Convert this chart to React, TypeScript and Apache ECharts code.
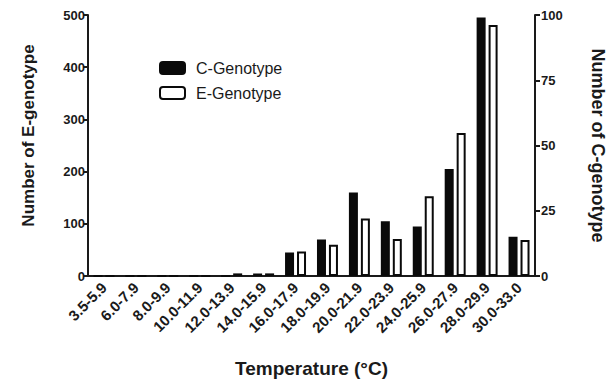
import React, { useEffect, useRef } from "react";
import * as echarts from "echarts";

const categories = [
  "3.5-5.9", "6.0-7.9", "8.0-9.9", "10.0-11.9", "12.0-13.9", "14.0-15.9", "16.0-17.9",
  "18.0-19.9", "20.0-21.9", "22.0-23.9", "24.0-25.9", "26.0-27.9", "28.0-29.9", "30.0-33.0",
];
const cGenotype = [0, 0, 0, 0, 0, 1, 9, 14, 32, 21, 19, 41, 99, 15];
const eGenotype = [0, 0, 0, 0, 5, 5, 47, 60, 110, 71, 153, 274, 481, 69];

const FONT = "Liberation Sans, Arial, sans-serif";
const INK = "#1a1a1a";

export default function App() {
  const ref = useRef<HTMLDivElement>(null);
  useEffect(() => {
    if (!ref.current) return;
    const chart = echarts.init(ref.current, null, { renderer: "svg" });
    chart.setOption({
      animation: false,
      backgroundColor: "#ffffff",
      textStyle: { fontFamily: FONT },
      grid: { left: 88, right: 74, top: 15, bottom: 103 },
      legend: {
        orient: "vertical",
        left: 154,
        top: 55,
        itemWidth: 25,
        itemHeight: 12,
        itemGap: 9,
        textStyle: { fontSize: 16, lineHeight: 16, color: INK, fontFamily: FONT, padding: [0, 0, 0, 6] },
        data: ["C-Genotype", "E-Genotype"],
      },
      xAxis: {
        type: "category",
        data: categories,
        name: "Temperature (°C)",
        nameLocation: "middle",
        nameGap: 83,
        nameTextStyle: { fontSize: 19, fontWeight: "bold", color: INK, fontFamily: FONT },
        axisLine: { lineStyle: { color: INK, width: 2 } },
        axisTick: { alignWithLabel: true, length: 5, lineStyle: { color: INK, width: 2 } },
        axisLabel: {
          rotate: 45,
          interval: 0,
          margin: 9,
          fontSize: 15,
          fontWeight: "bold",
          color: INK,
          fontFamily: FONT,
        },
      },
      yAxis: [
        {
          type: "value",
          min: 0,
          max: 500,
          interval: 100,
          position: "left",
          name: "Number of E-genotype",
          nameLocation: "middle",
          nameRotate: 90,
          nameGap: 51,
          nameTextStyle: {
            fontSize: 17,
            fontWeight: "bold",
            color: INK,
            fontFamily: FONT,
            padding: [0, 0, 0, 20],
          },
          axisLine: { show: true, lineStyle: { color: INK, width: 2 } },
          axisTick: { show: true, length: 5, lineStyle: { color: INK, width: 2 } },
          axisLabel: { fontSize: 13, fontWeight: "bold", color: INK, margin: 3, fontFamily: FONT },
          splitLine: { show: false },
        },
        {
          type: "value",
          min: 0,
          max: 100,
          interval: 25,
          position: "right",
          name: "Number of C-genotype",
          nameLocation: "middle",
          nameRotate: -90,
          nameGap: 54,
          nameTextStyle: { fontSize: 18, fontWeight: "bold", color: INK, fontFamily: FONT },
          axisLine: { show: true, lineStyle: { color: INK, width: 2 } },
          axisTick: { show: true, length: 5, lineStyle: { color: INK, width: 2 } },
          axisLabel: { fontSize: 13, fontWeight: "bold", color: INK, margin: 6, fontFamily: FONT },
          splitLine: { show: false },
        },
      ],
      series: [
        {
          name: "C-Genotype",
          type: "bar",
          yAxisIndex: 1,
          data: cGenotype,
          barWidth: 9,
          barGap: "33%",
          itemStyle: { color: "#0a0a0a", borderColor: "#0a0a0a", borderWidth: 1.8 },
        },
        {
          name: "E-Genotype",
          type: "bar",
          yAxisIndex: 0,
          data: eGenotype,
          barWidth: 9,
          barGap: "33%",
          itemStyle: { color: "#ffffff", borderColor: "#0a0a0a", borderWidth: 2 },
        },
      ],
    });
    return () => chart.dispose();
  }, []);
  return <div ref={ref} style={{ width: 615, height: 383, position: "absolute", left: 0, top: 0 }} />;
}
